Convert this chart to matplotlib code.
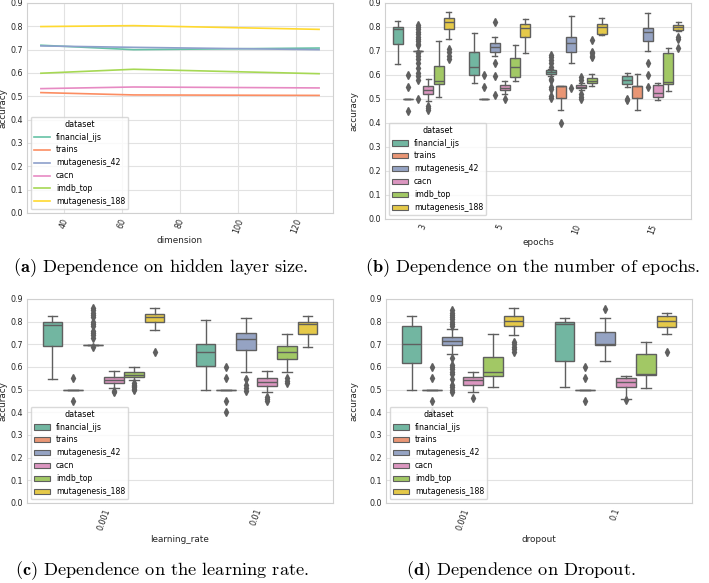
import colorsys
import matplotlib
matplotlib.use('Agg')
import matplotlib.pyplot as plt
import matplotlib.colors as mcolors
from matplotlib.patches import Patch

plt.rcParams['mathtext.fontset'] = 'cm'

datasets = ['financial_ijs', 'trains', 'mutagenesis_42', 'cacn', 'imdb_top', 'mutagenesis_188']
set2 = ['#66c2a5', '#fc8d62', '#8da0cb', '#e78ac3', '#a6d854', '#ffd92f']

# (a) accuracy vs hidden layer size
dimension = [32, 64, 128]
dim_acc = [
    [0.719, 0.700, 0.707],
    [0.516, 0.506, 0.504],
    [0.716, 0.710, 0.700],
    [0.533, 0.540, 0.536],
    [0.599, 0.616, 0.597],
    [0.799, 0.803, 0.787],
]

# box stats: (whisker low, q1, median, q3, whisker high) per category
epochs = ['3', '5', '10', '15']
epochs_box = [
    [(0.645, 0.73, 0.79, 0.80, 0.825), (0.565, 0.60, 0.635, 0.695, 0.775),
     (0.595, 0.604, 0.612, 0.62, 0.627), (0.548, 0.562, 0.578, 0.596, 0.61)],
    [(0.5, 0.5, 0.5, 0.5, 0.5), (0.5, 0.5, 0.5, 0.5, 0.5),
     (0.454, 0.503, 0.554, 0.554, 0.554), (0.454, 0.503, 0.554, 0.554, 0.604)],
    [(0.70, 0.70, 0.70, 0.70, 0.70), (0.68, 0.697, 0.718, 0.735, 0.76),
     (0.651, 0.697, 0.732, 0.757, 0.846), (0.70, 0.743, 0.778, 0.795, 0.857)],
    [(0.492, 0.521, 0.5375, 0.554, 0.583), (0.52, 0.5375, 0.547, 0.558, 0.574),
     (0.5375, 0.545, 0.551, 0.558, 0.565), (0.496, 0.51, 0.524, 0.558, 0.565)],
    [(0.508, 0.561, 0.575, 0.639, 0.743), (0.575, 0.593, 0.635, 0.672, 0.727),
     (0.555, 0.565, 0.576, 0.586, 0.603), (0.533, 0.561, 0.572, 0.693, 0.714)],
    [(0.749, 0.79, 0.822, 0.836, 0.861), (0.693, 0.757, 0.795, 0.811, 0.832),
     (0.768, 0.77, 0.80, 0.811, 0.836), (0.785, 0.7875, 0.799, 0.808, 0.822)],
]
epochs_out = [
    [[], [], [0.683, 0.674, 0.662, 0.649, 0.635, 0.585, 0.579, 0.549, 0.54, 0.512, 0.505], [0.50, 0.495]],
    [[0.60, 0.55, 0.45], [0.60, 0.55], [0.40], []],
    [[0.808, 0.80, 0.79, 0.78, 0.77, 0.76, 0.75, 0.74, 0.73, 0.725, 0.69, 0.68, 0.665, 0.65,
      0.63, 0.61, 0.595, 0.58, 0.50], [0.82, 0.649, 0.596, 0.517], [0.546], [0.651, 0.601, 0.549]],
    [[0.47, 0.462, 0.455], [0.499], [0.59, 0.579, 0.521, 0.51, 0.499], []],
    [[], [], [0.746, 0.697, 0.69, 0.68, 0.674], []],
    [[0.707, 0.695, 0.68, 0.665], [], [], [0.76, 0.752, 0.714]],
]

learning_rate = ['0.001', '0.01']
lr_box = [
    [(0.548, 0.694, 0.785, 0.80, 0.825), (0.50, 0.603, 0.665, 0.701, 0.806)],
    [(0.5, 0.5, 0.5, 0.5, 0.5), (0.5, 0.5, 0.5, 0.5, 0.5)],
    [(0.698, 0.698, 0.698, 0.698, 0.698), (0.578, 0.676, 0.724, 0.75, 0.816)],
    [(0.507, 0.529, 0.544, 0.554, 0.581), (0.49, 0.518, 0.532, 0.55, 0.581)],
    [(0.541, 0.556, 0.566, 0.576, 0.599), (0.578, 0.637, 0.665, 0.694, 0.746)],
    [(0.765, 0.80, 0.819, 0.835, 0.86), (0.688, 0.747, 0.79, 0.80, 0.825)],
]
lr_out = [
    [[], []],
    [[0.55, 0.45], [0.60, 0.55, 0.45, 0.40]],
    [[0.86, 0.85, 0.84, 0.83, 0.82, 0.80, 0.79, 0.78, 0.76, 0.75, 0.74, 0.73, 0.69],
     [0.547, 0.519, 0.507, 0.493]],
    [[0.495, 0.49], [0.468, 0.46, 0.452]],
    [[0.53, 0.52, 0.515, 0.51, 0.505, 0.50], [0.55, 0.54, 0.53]],
    [[0.665], []],
]

dropout = ['0.001', '0.1']
drop_box = [
    [(0.499, 0.617, 0.702, 0.781, 0.825), (0.51, 0.628, 0.789, 0.797, 0.818)],
    [(0.5, 0.5, 0.5, 0.5, 0.5), (0.5, 0.5, 0.5, 0.5, 0.5)],
    [(0.656, 0.695, 0.715, 0.731, 0.767), (0.626, 0.697, 0.70, 0.753, 0.817)],
    [(0.489, 0.521, 0.543, 0.554, 0.58), (0.459, 0.513, 0.535, 0.553, 0.562)],
    [(0.511, 0.562, 0.58, 0.646, 0.744), (0.507, 0.565, 0.568, 0.657, 0.71)],
    [(0.739, 0.781, 0.805, 0.825, 0.859), (0.745, 0.776, 0.804, 0.825, 0.84)],
]
drop_out = [
    [[], []],
    [[0.60, 0.55, 0.45, 0.40], [0.60, 0.55, 0.45]],
    [[0.85, 0.84, 0.83, 0.82, 0.81, 0.80, 0.79, 0.78, 0.64, 0.61, 0.60, 0.59, 0.58, 0.57,
      0.545, 0.52, 0.51, 0.50, 0.49], [0.856]],
    [[0.465], [0.455]],
    [[], []],
    [[0.71, 0.70, 0.69, 0.68, 0.665], [0.666]],
]


def desaturate(c, prop=0.75):
    h, l, s = colorsys.rgb_to_hls(*mcolors.to_rgb(c))
    return colorsys.hls_to_rgb(h, l, s * prop)


box_colors = [desaturate(c) for c in set2]
gray = '#5f5f5f'
W, H = 709, 583


def make_ax(fig, left, top, right, bottom):
    ax = fig.add_axes([left / W, 1 - bottom / H, (right - left) / W, (bottom - top) / H])
    for s in ax.spines.values():
        s.set_color('#d0d0d0')
        s.set_linewidth(0.8)
    ax.set_axisbelow(True)
    ax.grid(True, color='#e2e2e2', linewidth=0.8)
    ax.tick_params(length=0, labelsize=5.8, labelcolor='#262626', pad=3)
    ax.set_ylim(0, 0.9)
    ax.set_yticks([i / 10 for i in range(10)])
    ax.set_yticklabels([f'{i / 10:.1f}' for i in range(10)])
    return ax


def box_panel(ax, cats, stats, fliers, xlabel):
    n = len(datasets)
    w = 0.8 / n
    for i in range(n):
        pos = [c - 0.4 + w * (i + 0.5) for c in range(len(cats))]
        bs = []
        for (lo, q1, med, q3, hi), fl in zip(stats[i], fliers[i]):
            bs.append(dict(whislo=lo, q1=q1, med=med, q3=q3, whishi=hi, fliers=fl))
        ax.bxp(bs, positions=pos, widths=w * 0.98, patch_artist=True, manage_ticks=False,
               boxprops=dict(facecolor=box_colors[i], edgecolor=gray, linewidth=1.0),
               medianprops=dict(color=gray, linewidth=1.0),
               whiskerprops=dict(color=gray, linewidth=1.0),
               capprops=dict(color=gray, linewidth=1.0),
               flierprops=dict(marker='d', markerfacecolor=gray, markeredgecolor=gray,
                               markersize=4.0, linestyle='none'))
    ax.xaxis.grid(False)
    ax.set_xlim(-0.5, len(cats) - 0.5)
    ax.set_xticks(range(len(cats)))
    ax.set_xticklabels(cats, rotation=70)
    ax.set_xlabel(xlabel, fontsize=6.4, color='#262626')
    ax.set_ylabel('accuracy', fontsize=6.4, color='#262626')
    handles = [Patch(facecolor=box_colors[i], edgecolor=gray, linewidth=0.8, label=d)
               for i, d in enumerate(datasets)]
    ax.legend(handles=handles, title='dataset', loc='lower left', fontsize=5.6,
              title_fontsize=5.8, edgecolor='#d0d0d0', framealpha=0.8)


fig = plt.figure(figsize=(W / 100, H / 100), dpi=100)

# (a)
ax = make_ax(fig, 27, 3, 333, 213)
for i, d in enumerate(datasets):
    ax.plot(dimension, dim_acc[i], color=set2[i], linewidth=1.2, label=d)
ax.set_xlim(27.2, 132.8)
ax.set_xticks([40, 60, 80, 100, 120])
ax.set_xticklabels(['40', '60', '80', '100', '120'], rotation=70)
ax.set_xlabel('dimension', fontsize=6.4, color='#262626')
ax.set_ylabel('accuracy', fontsize=6.4, color='#262626')
ax.legend(title='dataset', loc='lower left', fontsize=5.6, title_fontsize=5.8,
          edgecolor='#d0d0d0', framealpha=0.8)
ax.yaxis.set_label_coords(-0.064, 0.5)
ax.xaxis.set_label_coords(0.5, -0.11)

# (b)
ax = make_ax(fig, 385, 3, 691, 219)
box_panel(ax, epochs, epochs_box, epochs_out, 'epochs')
ax.yaxis.set_label_coords(-0.088, 0.5)
ax.xaxis.set_label_coords(0.5, -0.088)

# (c)
ax = make_ax(fig, 27, 299, 333, 503)
box_panel(ax, learning_rate, lr_box, lr_out, 'learning_rate')
ax.yaxis.set_label_coords(-0.064, 0.5)
ax.xaxis.set_label_coords(0.5, -0.157)

# (d)
ax = make_ax(fig, 386, 299, 692, 503)
box_panel(ax, dropout, drop_box, drop_out, 'dropout')
ax.yaxis.set_label_coords(-0.0915, 0.5)
ax.xaxis.set_label_coords(0.5, -0.157)

captions = [
    (13, 268, r'$\mathbf{(a)}$ Dependence on hidden layer size.'),
    (365, 268, r'$\mathbf{(b)}$ Dependence on the number of epochs.'),
    (15, 571, r'$\mathbf{(c)}$ Dependence on the learning rate.'),
    (406, 571, r'$\mathbf{(d)}$ Dependence on Dropout.'),
]
for x, y, t in captions:
    fig.text(x / W, 1 - y / H, t, family='cmr10', fontsize=13.2, ha='left', va='center')

fig.savefig('out.png', dpi=100)
